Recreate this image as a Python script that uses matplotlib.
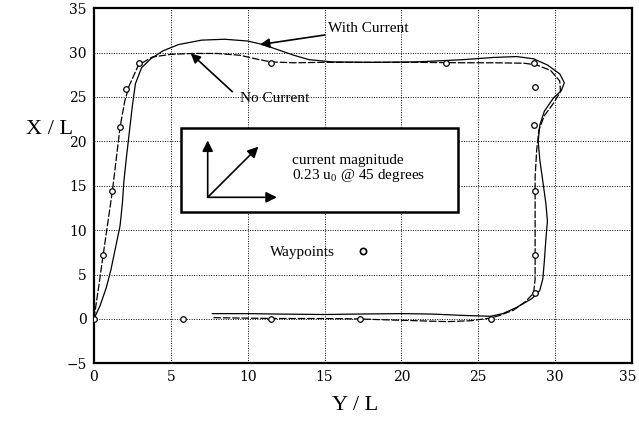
import matplotlib
matplotlib.use("Agg")
import matplotlib.pyplot as plt
from matplotlib.patches import Rectangle
from matplotlib.transforms import ScaledTranslation

plt.rcParams['mathtext.fontset'] = 'stix'

# Waypoints (Y/L, X/L)
wp_y = [0, 0.6, 1.2, 1.7, 2.1, 2.9, 11.5, 22.9, 28.6, 28.7, 28.6, 28.7, 28.7, 28.7, 25.8, 17.3, 11.5, 5.8]
wp_x = [0, 7.2, 14.4, 21.6, 25.9, 28.8, 28.8, 28.8, 28.8, 26.1, 21.8, 14.4, 7.2, 2.9, 0.0, 0.0, 0.0, 0.0]

# No current trajectory (dashed)
nc_y = [0, 0.3, 0.6, 0.9, 1.2, 1.45, 1.7, 2.0, 2.3, 2.9, 3.8, 5.0, 6.5, 8.0, 9.5, 10.5, 11.5,
        13, 15, 18, 21, 24, 26, 28, 28.8, 29.7, 30.3, 30.35, 29.9, 29.3, 28.95, 28.8, 28.7,
        28.7, 28.7, 28.7, 28.7, 28.6, 28.1, 27.3, 26.4, 25.8, 24.5, 23, 21, 19, 17.3, 15, 12,
        9.5, 7.7]
nc_x = [0, 3.5, 7.2, 10.8, 14.4, 18.0, 21.6, 24.5, 26.3, 28.6, 29.5, 29.8, 29.9, 29.9, 29.7,
        29.3, 28.95, 28.85, 28.9, 28.9, 28.9, 28.85, 28.85, 28.8, 28.6, 28.0, 26.8, 25.6, 24.3,
        22.9, 21.3, 19.0, 16.0, 13.0, 10.0, 7.2, 4.5, 2.9, 2.0, 1.0, 0.4, 0.1, -0.2, -0.3, -0.2,
        -0.1, 0.0, 0.05, 0.05, 0.1, 0.15]

# With current trajectory (solid)
wc_y = [0, 0.4, 0.8, 1.1, 1.4, 1.7, 1.85, 1.95, 2.1, 2.3, 2.5, 2.7, 3.1, 3.7, 4.5, 5.5, 7.0,
        8.5, 10.0, 11.0, 12.0, 13.0, 14.0, 15.5, 18, 21, 24, 26, 27.5, 28.6, 29.5, 30.3, 30.6,
        30.4, 29.9, 29.3, 29.0, 28.9, 29.0, 29.2, 29.4, 29.5, 29.4, 29.3, 29.2, 29.0, 28.5, 27.5,
        26.6, 25.8, 24, 22, 20, 17, 15, 12, 10, 7.7]
wc_x = [0, 1.5, 3.5, 5.5, 8.0, 10.5, 13.0, 15.5, 18.0, 21.0, 24.0, 26.5, 28.3, 29.3, 30.2,
        30.9, 31.4, 31.5, 31.3, 30.9, 30.3, 29.7, 29.2, 28.95, 28.9, 28.95, 29.2, 29.45, 29.55,
        29.3, 28.6, 27.6, 26.6, 25.7, 24.9, 23.4, 21.8, 20.0, 18.0, 15.5, 13.0, 11.0, 9.0, 6.5,
        4.5, 3.2, 2.3, 1.3, 0.6, 0.3, 0.4, 0.55, 0.6, 0.55, 0.5, 0.55, 0.6, 0.6]

xticks = [0, 5, 10, 15, 20, 25, 30, 35]
yticks = [-5, 0, 5, 10, 15, 20, 25, 30, 35]

serif = 'Liberation Serif'

fig = plt.figure(figsize=(6.39, 4.30), dpi=100)
ax = fig.add_axes([0.147, 0.155, 0.842, 0.826])
ax.set_xlim(0, 35)
ax.set_ylim(-5, 35)
ax.set_xticks(xticks)
ax.set_yticks(yticks)
ax.grid(True, color='black', linestyle=(0, (1, 1.5)), linewidth=0.7)
ax.set_axisbelow(True)
ax.tick_params(length=0, pad=5, labelsize=10)
for lab in ax.get_xticklabels() + ax.get_yticklabels():
    lab.set_family('DejaVu Serif')
last = ax.get_xticklabels()[-1]
last.set_transform(last.get_transform() + ScaledTranslation(-4 / 100, 0, fig.dpi_scale_trans))
for s in ax.spines.values():
    s.set_linewidth(1.6)

ax.plot(nc_y, nc_x, color='black', lw=0.9, linestyle=(0, (6, 1.5)), zorder=3)
ax.plot(wc_y, wc_x, color='black', lw=0.9, zorder=3)
ax.plot(wp_y, wp_x, 'o', ls='none', ms=4, mfc='white', mec='black', mew=0.9, zorder=4)

# inset box
ax.add_patch(Rectangle((5.66, 12.0), 18.0, 9.5, facecolor='white', edgecolor='black', lw=1.8, zorder=5))
ap = dict(arrowstyle='-|>', color='black', lw=1.2, mutation_scale=16, shrinkA=0, shrinkB=0)
ax.annotate('', xy=(7.4, 20.1), xytext=(7.4, 13.7), arrowprops=ap, zorder=6)
ax.annotate('', xy=(11.9, 13.7), xytext=(7.4, 13.7), arrowprops=ap, zorder=6)
ax.annotate('', xy=(10.7, 19.4), xytext=(7.4, 13.7), arrowprops=ap, zorder=6)
ax.text(12.9, 17.8, 'current magnitude', family=serif, fontsize=11, va='center', zorder=6)
ax.text(12.9, 16.1, r'0.23 u$_{\mathregular{0}}$ @ 45 degrees', family=serif, fontsize=11, va='center', zorder=6)

# waypoint legend
ax.text(11.45, 7.5, 'Waypoints', family=serif, fontsize=11, va='center', zorder=6)
ax.plot([17.5], [7.6], 'o', ms=4.5, mfc='white', mec='black', mew=1.2, zorder=6)

# annotations
ap2 = dict(arrowstyle='-|>', color='black', lw=1.2, mutation_scale=14, shrinkA=0, shrinkB=0)
ax.annotate('With Current', xy=(10.8, 30.9), xytext=(15.2, 32.7), family=serif, fontsize=11,
            va='center', arrowprops=ap2)
ax.annotate('', xy=(6.3, 29.9), xytext=(9.0, 25.6), arrowprops=ap2)
ax.text(9.5, 24.8, 'No Current', family=serif, fontsize=11, va='center')

fig.text(0.078, 0.70, 'X / L', family=serif, fontsize=16, ha='center', va='center')
fig.text(0.555, 0.058, 'Y / L', family=serif, fontsize=16, ha='center', va='center')

fig.savefig('out.png', dpi=100)
